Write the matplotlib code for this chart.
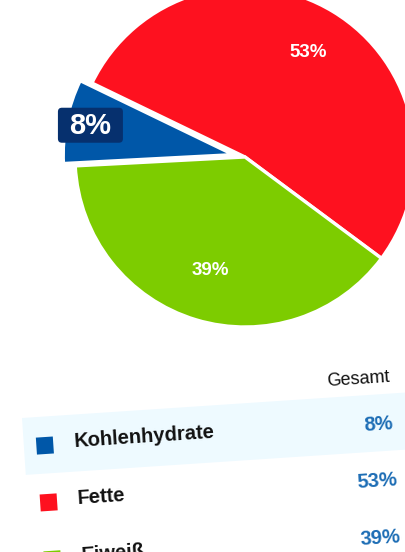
import numpy as np
import matplotlib
matplotlib.use("Agg")
import matplotlib.pyplot as plt
from matplotlib.patches import Rectangle, FancyBboxPatch
from matplotlib.transforms import Affine2D

categories = ["Kohlenhydrate", "Fette", "Eiweiß"]
values = [8, 53, 39]
colors = ["#0057a8", "#fe111f", "#7dcc00"]
pct_labels = ["8%", "53%", "39%"]
header = "Gesamt"

plt.rcParams["font.family"] = ["Liberation Sans", "DejaVu Sans"]

W, H = 405, 552
fig = plt.figure(figsize=(W / 100, H / 100), dpi=100, facecolor="white")
ax = fig.add_axes([0, 0, 1, 1])
ax.set_xlim(0, W)
ax.set_ylim(0, H)
ax.set_aspect("equal")
ax.axis("off")

# pie (explode is in data units here, i.e. pixels)
cx, cy, r = 245, H - 157, 170
wedges, _ = ax.pie(values, colors=colors, startangle=183, counterclock=False,
                   explode=[12, 0, 0], center=(cx, cy), radius=r,
                   wedgeprops=dict(edgecolor="white", linewidth=2.4))
ax.set_xlim(0, W)
ax.set_ylim(0, H)

dists = [0.86, 0.72, 0.70]
for w, lab, d in zip(wedges, pct_labels, dists):
    a = np.deg2rad((w.theta1 + w.theta2) / 2)
    x0, y0 = w.center
    x = x0 + d * r * np.cos(a)
    y = y0 + d * r * np.sin(a)
    if lab == "8%":
        box = FancyBboxPatch((x - 32, y - 17), 65, 35,
                             boxstyle="round,pad=0,rounding_size=4",
                             fc="#06306e", ec="none", zorder=3)
        ax.add_patch(box)
        ax.text(x, y, lab, color="white", fontsize=21, ha="center",
                va="center", fontweight="bold", zorder=4)
    else:
        ax.text(x, y, lab, color="white", fontsize=13.5, ha="center",
                va="center", fontweight="bold", zorder=4)

# legend table, slightly tilted
px, py, tilt = 22, H - 418, 3.8
tr = Affine2D().rotate_deg_around(px, py, tilt) + ax.transData
row_h = 57

band = Rectangle((px, py - row_h), 420, row_h, fc="#eefaff", ec="none",
                 transform=tr, zorder=1)
ax.add_patch(band)

ax.text(px + 370, py + 16, header, transform=tr, rotation=tilt,
        rotation_mode="anchor", ha="right", va="center", fontsize=13,
        color="#111111")

sq = 17
for i, (name, col, lab) in enumerate(zip(categories, colors, pct_labels)):
    v = py - 29 - i * row_h
    ax.add_patch(Rectangle((px + 21 - sq / 2, v - sq / 2), sq, sq, fc=col,
                           ec="none", transform=tr, zorder=2))
    ax.text(px + 50, v + 2, name, transform=tr, rotation=tilt,
            rotation_mode="anchor", ha="left", va="center", fontsize=14.5,
            fontweight="bold", color="#111111", zorder=2)
    ax.text(px + 370, v - 1, lab, transform=tr, rotation=tilt,
            rotation_mode="anchor", ha="right", va="center", fontsize=14.5,
            fontweight="bold", color="#1d6db5", zorder=2)

fig.savefig("out.png", dpi=100, facecolor="white")
